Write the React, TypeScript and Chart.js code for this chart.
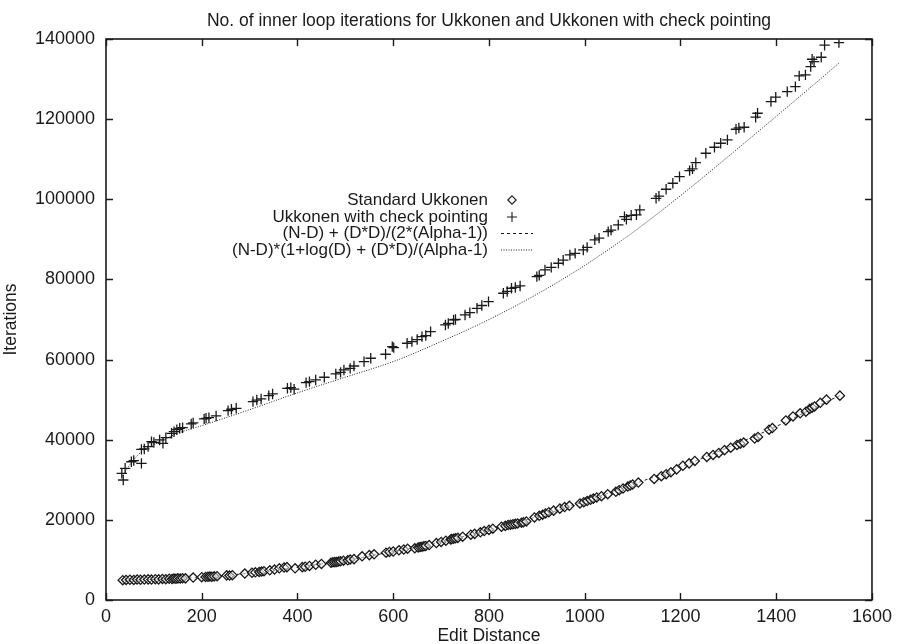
import React, { useEffect, useRef } from "react";
import { Chart, registerables } from "chart.js";

Chart.register(...registerables);

const TITLE = "No. of inner loop iterations for Ukkonen and Ukkonen with check pointing";
const X_LABEL = "Edit Distance";
const Y_LABEL = "Iterations";
const SERIES_NAMES = [
  "Standard Ukkonen",
  "Ukkonen with check pointing",
  "(N-D) + (D*D)/(2*(Alpha-1))",
  "(N-D)*(1+log(D) + (D*D)/(Alpha-1)",
];

const X_MIN = 0;
const X_MAX = 1600;
const X_STEP = 200;
const Y_MIN = 0;
const Y_MAX = 140000;
const Y_STEP = 20000;

// Standard Ukkonen (diamonds)
const standardX = [
  35, 42, 50, 58, 65, 72, 80, 88, 95, 103, 110, 118, 125, 132, 138, 142, 146, 150, 155, 160, 166,
  182, 200, 208, 213, 217, 221, 226, 232, 252, 258, 264,
  290, 305, 312, 320, 325, 330, 342, 352, 362, 372, 378,
  395, 410, 416, 425, 438, 450, 470, 474, 478, 482, 486, 490, 496, 505, 510, 518,
  535, 550, 560,
  585, 592, 600, 612, 622, 630,
  645, 652, 656, 660, 664, 668, 675, 690, 700, 710, 720, 722, 726, 730, 735, 745,
  762, 770, 782, 790, 800, 808,
  826, 834, 840, 845, 850, 855, 860, 868, 872, 878,
  895, 905, 912, 918, 925, 935, 948, 958, 968,
  990, 998, 1005, 1012, 1018, 1025, 1035, 1048,
  1065, 1072, 1080, 1090, 1095, 1100, 1112,
  1145, 1160, 1170, 1180, 1192, 1205, 1218, 1230,
  1255, 1268, 1280, 1292, 1305, 1318, 1325, 1332,
  1355, 1362, 1385, 1392,
  1420, 1435, 1450, 1462, 1470, 1475, 1480, 1492, 1505,
  1533,
];
const standardY = [
  4950, 5000, 5050, 5000, 5100, 5050, 5100, 5150, 5100, 5200, 5150, 5250, 5200, 5300, 5250, 5350, 5300, 5400, 5350, 5450, 5400,
  5600, 5700, 5750, 5800, 5850, 5800, 5900, 5950, 6150, 6100, 6200,
  6600, 6800, 6900, 7000, 7100, 7200, 7400, 7600, 7900, 8100, 8200,
  7900, 8200, 8300, 8500, 8800, 9000, 9300, 9400, 9450, 9500, 9600, 9650, 9800, 9900, 10100, 10200,
  10900, 11200, 11400,
  11800, 12000, 12100, 12400, 12600, 12800,
  12900, 13100, 13200, 13300, 13400, 13500, 13700, 14200, 14500, 14800, 15100, 15200, 15300, 15400, 15500, 15800,
  16300, 16500, 16900, 17200, 17500, 17800,
  18300, 18500, 18700, 18800, 18900, 19000, 19100, 19300, 19400, 19600,
  20600, 21000, 21300, 21600, 21900, 22300, 22800, 23200, 23500,
  24100, 24400, 24700, 25000, 25300, 25600, 25900, 26400,
  27000, 27400, 27800, 28300, 28600, 28800, 29300,
  30200, 30900, 31400, 31900, 32600, 33500, 34100, 34700,
  35700, 36200, 36700, 37400, 38000, 38700, 39000, 39300,
  40300, 40700, 42500, 42900,
  44800, 45800, 46600, 47000, 47700, 48000, 48300, 49200, 50000,
  51000,
];

// Ukkonen with check pointing (plus signs)
const checkX = [
  33, 36, 40, 53, 58, 74, 74, 80, 88, 95, 100, 112, 119, 125, 137, 142, 148, 154, 160, 178, 182,
  205, 209, 215, 230, 255, 262, 272, 307, 315, 324, 340, 348, 379, 386, 393, 418, 425, 438, 456,
  480, 490, 497, 510, 518, 539, 553, 584, 598, 601, 629, 639, 650, 660, 668, 678, 709, 715, 726,
  730, 750, 760, 775, 785, 799, 830, 838, 847, 855, 865, 900, 905, 917, 930, 945, 955, 969, 980,
  997, 1005, 1021, 1030, 1049, 1055, 1070, 1083, 1087, 1097, 1108, 1115, 1149, 1155, 1170, 1184,
  1198, 1219, 1225, 1232, 1253, 1271, 1284, 1298, 1316, 1322, 1333, 1357, 1361, 1389, 1399, 1423,
  1440, 1448, 1461, 1472, 1475, 1479, 1494, 1501, 1531,
];
const checkY = [
  31600, 29950, 32870, 34500, 34800, 34100, 37600, 37700, 38270, 39500, 39300, 39940, 39100, 40500, 41600, 42000, 42500, 42850, 43000, 43930, 44200,
  45200, 45340, 45500, 45930, 47260, 47600, 47840, 49500, 49900, 50170, 51000, 51420, 52830, 53000, 52600, 54240, 54500, 54910, 55590,
  56410, 56800, 57410, 57800, 58400, 59480, 60330, 61330, 63230, 62980, 64070, 64480, 65000, 65720, 66000, 66970, 68640, 69000, 69890,
  70000, 71140, 71700, 72800, 73500, 74460, 76550, 77000, 77800, 78000, 78370, 80700, 81000, 82370, 83000, 84040, 84800, 86110, 86500,
  87360, 88000, 89860, 90300, 91930, 92300, 93600, 95670, 95000, 96000, 96100, 97340, 100250, 100800, 102500, 104000,
  105660, 107160, 107600, 109150, 111490, 112990, 113990, 114820, 117480, 117800, 117980, 120480, 121470, 124380, 125470, 126870,
  128120, 130790, 131040, 133120, 134950, 134370, 135450, 138450, 139110,
];

// (N-D) + (D*D)/(2*(Alpha-1))  -- dashed
const fitAX = [35, 100, 200, 300, 400, 500, 600, 700, 800, 900, 1000, 1100, 1200, 1300, 1400, 1500, 1533];
const fitAY = [5000, 5150, 5700, 6700, 8200, 9900, 12100, 14500, 17500, 20800, 24600, 28800, 33200, 38100, 43300, 49200, 51000];

// (N-D)*(1+log(D) + (D*D)/(Alpha-1)  -- dotted
const fitBX = [35, 50, 78, 100, 150, 200, 300, 400, 500, 600, 700, 800, 900, 1000, 1100, 1200, 1300, 1400, 1500, 1531];
const fitBY = [31000, 33800, 37400, 38800, 41600, 43500, 47500, 51700, 55600, 59500, 64500, 70000, 76300, 83500, 91700, 100900, 110700, 120700, 130800, 134000];

const FONT = "'Liberation Sans', Arial, Helvetica, sans-serif";
const INK = "#1a1a1a";

function pts(xs: number[], ys: number[]) {
  return xs.map((x, i) => ({ x, y: ys[i] }));
}

const framePlugin = {
  id: "gnuFrame",
  afterDatasetsDraw(chart: any) {
    const { ctx, chartArea: a, scales } = chart;
    ctx.save();
    ctx.strokeStyle = INK;
    ctx.lineWidth = 1.6;
    ctx.strokeRect(a.left, a.top, a.right - a.left, a.bottom - a.top);
    const tl = 7;
    ctx.lineWidth = 1.4;
    ctx.beginPath();
    scales.x.ticks.forEach((t: any) => {
      const px = Math.round(scales.x.getPixelForValue(t.value)) + 0.5;
      ctx.moveTo(px, a.bottom);
      ctx.lineTo(px, a.bottom - tl);
      ctx.moveTo(px, a.top);
      ctx.lineTo(px, a.top + tl);
    });
    scales.y.ticks.forEach((t: any) => {
      const py = Math.round(scales.y.getPixelForValue(t.value)) + 0.5;
      ctx.moveTo(a.left, py);
      ctx.lineTo(a.left + tl, py);
      ctx.moveTo(a.right, py);
      ctx.lineTo(a.right - tl, py);
    });
    ctx.stroke();
    ctx.restore();
  },
};

const titleKeyPlugin = {
  id: "gnuKey",
  afterDraw(chart: any) {
    const { ctx, chartArea: a } = chart;
    ctx.save();
    ctx.font = `17.5px ${FONT}`;
    ctx.fillStyle = INK;
    ctx.textAlign = "center";
    ctx.textBaseline = "middle";
    ctx.fillText(TITLE, (a.left + a.right) / 2, a.top - 17.5);

    const textRight = a.left + 382;
    const sampleL = a.left + 395;
    const sampleR = a.left + 427;
    const markX = a.left + 406;
    const rowY = [a.top + 161, a.top + 178, a.top + 194.5, a.top + 211];
    ctx.font = `17px ${FONT}`;
    ctx.textAlign = "right";
    SERIES_NAMES.forEach((name, i) => ctx.fillText(name, textRight, rowY[i]));
    ctx.strokeStyle = INK;
    ctx.lineWidth = 1.1;
    const r = 4.2;
    ctx.beginPath();
    ctx.moveTo(markX, rowY[0] - r);
    ctx.lineTo(markX + r, rowY[0]);
    ctx.lineTo(markX, rowY[0] + r);
    ctx.lineTo(markX - r, rowY[0]);
    ctx.closePath();
    ctx.stroke();
    ctx.beginPath();
    ctx.moveTo(markX - 5, rowY[1]);
    ctx.lineTo(markX + 5, rowY[1]);
    ctx.moveTo(markX, rowY[1] - 5);
    ctx.lineTo(markX, rowY[1] + 5);
    ctx.stroke();
    ctx.lineWidth = 1;
    ctx.setLineDash([3, 3]);
    ctx.beginPath();
    ctx.moveTo(sampleL, rowY[2]);
    ctx.lineTo(sampleR, rowY[2]);
    ctx.stroke();
    ctx.setLineDash([1, 1.5]);
    ctx.beginPath();
    ctx.moveTo(sampleL, rowY[3]);
    ctx.lineTo(sampleR, rowY[3]);
    ctx.stroke();
    ctx.restore();
  },
};

export default function App() {
  const ref = useRef<HTMLCanvasElement | null>(null);

  useEffect(() => {
    if (!ref.current) return;
    const chart = new Chart(ref.current, {
      type: "scatter",
      data: {
        datasets: [
          {
            label: SERIES_NAMES[2],
            data: pts(fitAX, fitAY),
            showLine: true,
            pointRadius: 0,
            borderColor: INK,
            borderWidth: 1,
            borderDash: [3, 3],
            cubicInterpolationMode: "monotone",
            order: 3,
          },
          {
            label: SERIES_NAMES[3],
            data: pts(fitBX, fitBY),
            showLine: true,
            pointRadius: 0,
            borderColor: INK,
            borderWidth: 1,
            borderDash: [1, 1.5],
            cubicInterpolationMode: "monotone",
            order: 4,
          },
          {
            label: SERIES_NAMES[0],
            data: pts(standardX, standardY),
            showLine: false,
            pointStyle: "rectRot",
            pointRadius: 4.6,
            pointBorderWidth: 1.3,
            pointBorderColor: INK,
            pointBackgroundColor: "rgba(255,255,255,0.5)",
            order: 1,
          },
          {
            label: SERIES_NAMES[1],
            data: pts(checkX, checkY),
            showLine: false,
            pointStyle: "cross",
            pointRadius: 5.2,
            pointBorderWidth: 1.3,
            pointBorderColor: INK,
            order: 2,
          },
        ],
      },
      options: {
        animation: false,
        responsive: false,
        layout: { padding: { left: 0, right: 23, top: 39, bottom: 0 } },
        plugins: {
          legend: { display: false },
          tooltip: { enabled: false },
          title: { display: false },
        },
        scales: {
          x: {
            type: "linear",
            min: X_MIN,
            max: X_MAX,
            grid: { display: false, drawTicks: false, tickLength: 0 },
            border: { display: false },
            ticks: {
              stepSize: X_STEP,
              color: INK,
              font: { family: FONT, size: 18 },
              padding: 6,
              maxRotation: 0,
              callback: (v: any) => String(v),
            },
            title: {
              display: true,
              text: X_LABEL,
              color: INK,
              font: { family: FONT, size: 17.5 },
              padding: { top: 0, bottom: -3 },
            },
            afterFit: (s: any) => {
              s.height = 44;
            },
          },
          y: {
            type: "linear",
            min: Y_MIN,
            max: Y_MAX,
            grid: { display: false, drawTicks: false, tickLength: 0 },
            border: { display: false },
            ticks: {
              stepSize: Y_STEP,
              color: INK,
              font: { family: FONT, size: 18 },
              padding: 11,
              callback: (v: any) => String(v),
            },
            title: {
              display: true,
              text: Y_LABEL,
              color: INK,
              font: { family: FONT, size: 17.5 },
              padding: { top: 1, bottom: 0 },
            },
            afterFit: (s: any) => {
              s.width = 106;
            },
          },
        },
      },
      plugins: [framePlugin, titleKeyPlugin],
    });
    return () => chart.destroy();
  }, []);

  return (
    <div style={{ position: "absolute", left: 0, top: 0, width: 898, height: 644, background: "#fff" }}>
      <canvas ref={ref} width={898} height={644} style={{ width: 898, height: 644, display: "block" }} />
    </div>
  );
}
